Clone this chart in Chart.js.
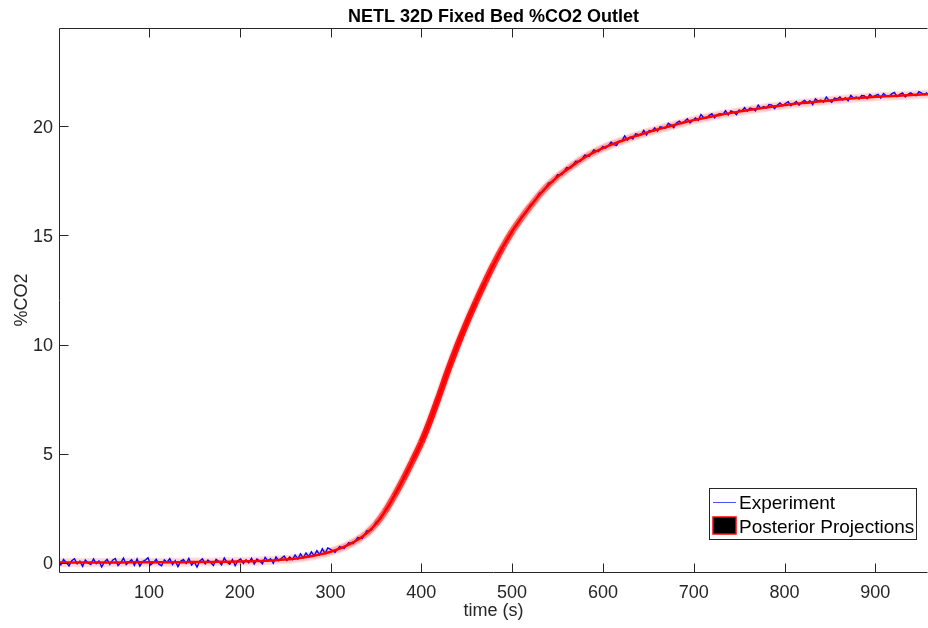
<!DOCTYPE html>
<html><head><meta charset="utf-8">
<script src="https://cdn.jsdelivr.net/npm/chart.js@4/dist/chart.umd.min.js"></script>
<style>html,body{margin:0;padding:0;background:#fff;overflow:hidden}canvas{display:block}</style>
</head><body>
<canvas id="c" width="928" height="628"></canvas>
<script>
const chartTitle = 'NETL 32D Fixed Bed %CO2 Outlet';
const xAxisLabel = 'time (s)';
const yAxisLabel = '%CO2';
const legendLabels = ['Experiment', 'Posterior Projections'];
const xTickValues = [100, 200, 300, 400, 500, 600, 700, 800, 900];
const yTickValues = [0, 5, 10, 15, 20];

const expTime = [
  0,3,6,9,12,15,18,21,24,27,30,33,36,39,42,45,48,51,54,57,
  60,63,66,69,72,75,78,81,84,87,90,93,96,99,102,105,108,111,114,117,
  120,123,126,129,132,135,138,141,144,147,150,153,156,159,162,165,168,171,174,177,
  180,183,186,189,192,195,198,201,204,207,210,213,216,219,222,225,228,231,234,237,
  240,243,246,249,252,255,258,261,264,267,270,273,276,279,282,285,288,291,294,297,
  300,305,310,315,320,325,330,335,340,345,350,355,360,365,370,375,380,385,390,395,
  400,405,410,415,420,425,430,435,440,445,450,455,460,465,470,475,480,485,490,495,
  500,505,510,515,520,525,530,535,540,545,550,555,560,565,570,575,580,585,590,595,
  600,603,606,609,612,615,618,621,624,627,630,633,636,639,642,645,648,651,654,657,
  660,663,666,669,672,675,678,681,684,687,690,693,696,699,702,705,708,711,714,717,
  720,723,726,729,732,735,738,741,744,747,750,753,756,759,762,765,768,771,774,777,
  780,783,786,789,792,795,798,801,804,807,810,813,816,819,822,825,828,831,834,837,
  840,843,846,849,852,855,858,861,864,867,870,873,876,879,882,885,888,891,894,897,
  900,903,906,909,912,915,918,921,924,927,930,933,936,939,942,945,948,951,954,957
];
const expCO2 = [
  0.06,-0.10,0.15,0.02,-0.14,0.10,0.19,-0.05,0.08,-0.16,0.13,-0.01,-0.08,0.18,-0.04,0.09,-0.19,0.04,0.16,-0.07,
  0.12,0.20,-0.12,0.01,0.22,-0.08,0.04,0.15,-0.11,0.18,-0.15,0.06,0.12,0.23,-0.09,0.01,0.16,-0.06,-0.13,0.14,
  0.03,0.19,-0.08,0.10,-0.17,0.07,0.15,-0.03,0.20,-0.10,0.04,-0.20,0.09,0.18,-0.05,0.13,0.01,-0.12,0.16,0.06,
  -0.09,0.22,0.03,-0.06,0.15,-0.13,0.10,0.18,-0.03,0.14,0.00,0.21,-0.05,0.17,0.08,-0.04,0.25,0.09,0.19,-0.02,
  0.27,0.10,0.21,0.31,0.11,0.27,0.15,0.36,0.18,0.41,0.23,0.45,0.28,0.50,0.32,0.56,0.37,0.64,0.43,0.68,
  0.62,0.48,0.74,0.66,0.92,0.88,1.16,1.12,1.46,1.50,1.85,2.00,2.40,2.66,3.10,3.40,3.87,4.19,4.70,5.04,
  5.55,6.01,6.58,7.10,7.73,8.27,8.91,9.41,10.01,10.48,11.03,11.46,11.98,12.38,12.88,13.26,13.73,14.08,14.52,14.82,
  15.23,15.46,15.85,16.02,16.40,16.56,16.93,17.04,17.40,17.45,17.78,17.79,18.10,18.10,18.40,18.38,18.68,18.63,18.92,18.84,
  19.08,19.00,19.11,19.28,19.16,19.12,19.33,19.34,19.56,19.36,19.50,19.42,19.65,19.62,19.60,19.81,19.60,19.80,19.77,19.93,
  19.78,19.97,19.94,19.91,20.14,20.05,19.94,20.15,20.23,20.13,20.23,20.34,20.15,20.27,20.38,20.27,20.54,20.39,20.37,20.50,
  20.57,20.38,20.53,20.57,20.53,20.71,20.52,20.70,20.65,20.53,20.74,20.70,20.85,20.69,20.83,20.81,20.70,20.97,20.82,20.90,
  20.83,20.99,20.97,20.81,20.96,21.07,20.94,21.04,21.12,20.94,21.04,21.13,20.97,21.10,21.18,21.07,21.17,20.99,21.25,21.15,
  21.20,21.10,21.34,21.18,21.10,21.29,21.25,21.34,21.20,21.31,21.17,21.41,21.29,21.34,21.25,21.41,21.39,21.26,21.46,21.34,
  21.40,21.46,21.29,21.50,21.40,21.36,21.48,21.55,21.35,21.46,21.53,21.34,21.46,21.53,21.44,21.40,21.58,21.52,21.45,21.54
];

const postTime = [
  0,10,20,30,40,50,60,70,80,90,100,110,120,130,140,150,160,170,180,190,
  200,210,220,230,240,250,260,270,280,290,300,310,320,330,340,350,360,370,380,390,
  400,410,420,430,440,450,460,470,480,490,500,510,520,530,540,550,560,570,580,590,
  600,610,620,630,640,650,660,670,680,690,700,710,720,730,740,750,760,770,780,790,
  800,810,820,830,840,850,860,870,880,890,900,910,920,930,940,950,960
];
const postCO2 = [
  0.02,0.02,0.02,0.02,0.02,0.02,0.02,0.02,0.03,0.03,0.03,0.03,0.03,0.03,0.03,0.04,0.04,0.04,0.05,0.05,
  0.06,0.07,0.08,0.10,0.12,0.15,0.19,0.24,0.31,0.40,0.51,0.65,0.83,1.06,1.36,1.78,2.35,3.05,3.82,4.65,
  5.52,6.55,7.70,8.88,9.98,11.00,11.95,12.85,13.70,14.48,15.18,15.78,16.33,16.85,17.30,17.68,18.00,18.30,18.57,18.80,
  19.00,19.17,19.32,19.47,19.60,19.73,19.85,19.96,20.07,20.18,20.28,20.37,20.45,20.53,20.60,20.67,20.74,20.80,20.86,20.92,
  20.97,21.02,21.06,21.10,21.14,21.18,21.22,21.26,21.29,21.32,21.35,21.37,21.39,21.41,21.43,21.45,21.47
];

const FONT = '"Liberation Sans", Arial, Helvetica, sans-serif';
const AX = '#262626';

const expPts = expTime.map((t, i) => ({x: t, y: expCO2[i]}));
const postPts = postTime.map((t, i) => ({x: t, y: postCO2[i]}));

// spread of the posterior projections is wider where the curve is steep
function spreadColor(ctx) {
  const s = Math.abs((ctx.p1.parsed.y - ctx.p0.parsed.y) / (ctx.p1.parsed.x - ctx.p0.parsed.x));
  const a = Math.max(0.05, Math.min(0.9, 0.05 + s * 9));
  return 'rgba(255,0,0,' + a.toFixed(3) + ')';
}

const deco = {
  id: 'deco',
  afterDatasetsDraw(chart) {
    const ctx = chart.ctx, a = chart.chartArea;
    const xs = chart.scales.x, ys = chart.scales.y;
    const L = Math.round(a.left) + 0.5, T = Math.round(a.top) + 0.5, B = Math.round(a.bottom) + 0.5, R = Math.round(a.right) - 0.5;
    ctx.save();
    ctx.strokeStyle = AX; ctx.lineWidth = 1;
    ctx.beginPath();
    xTickValues.forEach(v => {
      const px = Math.round(xs.getPixelForValue(v)) + 0.5;
      ctx.moveTo(px, B); ctx.lineTo(px, B - 9);
      ctx.moveTo(px, T); ctx.lineTo(px, T + 9);
    });
    yTickValues.forEach(v => {
      const py = Math.round(ys.getPixelForValue(v)) + 0.5;
      ctx.moveTo(L, py); ctx.lineTo(L + 9, py);
    });
    ctx.stroke();
    ctx.beginPath();
    ctx.moveTo(L, B); ctx.lineTo(L, T); ctx.lineTo(R, T);
    ctx.moveTo(L, B); ctx.lineTo(R, B);
    ctx.stroke();
    ctx.fillStyle = AX;
    ctx.font = '18px ' + FONT;
    ctx.textAlign = 'center'; ctx.textBaseline = 'alphabetic';
    xTickValues.forEach(v => {
      ctx.fillText(String(v), xs.getPixelForValue(v), 598);
    });
    ctx.textAlign = 'right';
    yTickValues.forEach(v => {
      ctx.fillText(String(v), 53, ys.getPixelForValue(v) + 6.5);
    });
    ctx.font = '18px ' + FONT;
    ctx.textAlign = 'center';
    ctx.fillText(xAxisLabel, (a.left + a.right) / 2, 616);
    ctx.save();
    ctx.translate(27, (a.top + a.bottom) / 2);
    ctx.rotate(-Math.PI / 2);
    ctx.fillText(yAxisLabel, 0, 0);
    ctx.restore();
    ctx.fillStyle = '#000';
    ctx.font = 'bold 18px ' + FONT;
    ctx.fillText(chartTitle, (a.left + a.right) / 2, 22);
    // legend
    ctx.fillStyle = '#fff';
    ctx.fillRect(709.5, 488.5, 207, 51);
    ctx.strokeStyle = AX; ctx.lineWidth = 1;
    ctx.strokeRect(709.5, 488.5, 207, 51);
    ctx.strokeStyle = '#4d4dff'; ctx.lineWidth = 1;
    ctx.beginPath(); ctx.moveTo(713, 502.5); ctx.lineTo(736, 502.5); ctx.stroke();
    ctx.fillStyle = '#000';
    ctx.fillRect(713, 517, 23, 17);
    ctx.strokeStyle = '#ff0000'; ctx.lineWidth = 1.5;
    ctx.strokeRect(713, 517, 23, 17);
    ctx.fillStyle = '#000';
    ctx.font = '19px ' + FONT;
    ctx.textAlign = 'left';
    ctx.fillText(legendLabels[0], 739, 509);
    ctx.fillText(legendLabels[1], 739, 532.5);
    ctx.restore();
  }
};

new Chart(document.getElementById('c'), {
  type: 'line',
  data: {
    datasets: [
      { label: legendLabels[1], data: postPts, borderColor: 'rgba(255,0,0,1)', borderWidth: 2.5, pointRadius: 0, cubicInterpolationMode: 'monotone', order: 1 },
      { label: legendLabels[1] + ' spread', data: postPts, borderColor: 'rgba(255,0,0,0.05)', segment: { borderColor: spreadColor }, borderWidth: 6.5, pointRadius: 0, cubicInterpolationMode: 'monotone', order: 2 },
      { label: legendLabels[0], data: expPts, borderColor: '#0000ff', borderWidth: 1.4, pointRadius: 0, tension: 0, order: 3 },
      { label: legendLabels[1] + ' band', data: postPts, borderColor: 'rgba(255,0,0,0.13)', borderWidth: 9, pointRadius: 0, cubicInterpolationMode: 'monotone', order: 4 }
    ]
  },
  options: {
    responsive: false, animation: false, devicePixelRatio: 1,
    layout: { padding: { left: 59, right: 0, top: 28, bottom: 56 } },
    scales: {
      x: { type: 'linear', min: 1, max: 958, display: false },
      y: { type: 'linear', min: -0.42, max: 24.5, display: false }
    },
    plugins: { legend: { display: false }, title: { display: false }, tooltip: { enabled: false } },
    elements: { point: { radius: 0 } }
  },
  plugins: [deco]
});
</script>
</body></html>
